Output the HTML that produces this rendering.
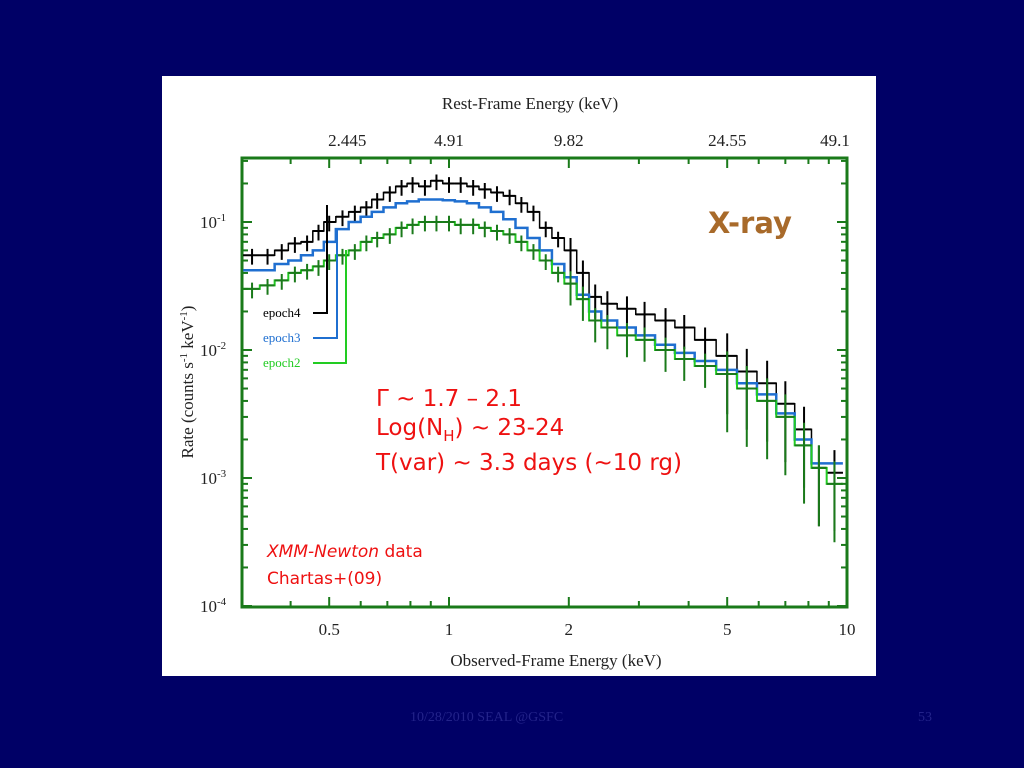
<!DOCTYPE html>
<html><head><meta charset="utf-8"><style>
html,body{margin:0;padding:0;background:#000066;width:1024px;height:768px;overflow:hidden}
#panel{position:absolute;left:162px;top:76px;width:714px;height:600px;background:#fff}
svg{position:absolute;left:0;top:0}
.foot{position:absolute;font-family:"Liberation Serif",serif;font-size:14px;color:#23238a}
</style></head><body>
<div id="panel"></div>
<svg id="chart" width="1024" height="768"></svg>
<div class="foot" style="left:410px;top:710px">10/28/2010 SEAL @GSFC</div>
<div class="foot" style="left:918px;top:710px">53</div>
<script>
const energies=[0.32,0.35,0.38,0.41,0.44,0.47,0.5,0.54,0.58,0.62,0.66,0.71,0.76,0.81,0.87,0.93,1.0,1.07,1.15,1.23,1.32,1.42,1.52,1.63,1.75,1.88,2.02,2.17,2.33,2.5,2.8,3.1,3.5,3.9,4.4,5.0,5.6,6.3,7.0,7.8,8.5,9.3];
const epoch3Model=[0.042,0.042,0.047,0.05,0.055,0.06,0.07,0.088,0.1,0.11,0.12,0.13,0.14,0.145,0.15,0.15,0.148,0.145,0.14,0.13,0.12,0.105,0.09,0.075,0.06,0.047,0.037,0.027,0.02,0.017,0.015,0.013,0.011,0.0095,0.0082,0.007,0.0055,0.0045,0.0032,0.002,0.0013,0.0013];
const epoch4Rates=[0.055,0.055,0.06,0.068,0.07,0.085,0.1,0.11,0.12,0.13,0.15,0.17,0.19,0.2,0.19,0.21,0.2,0.2,0.19,0.18,0.17,0.16,0.14,0.12,0.09,0.075,0.06,0.04,0.026,0.023,0.021,0.019,0.017,0.015,0.012,0.009,0.0068,0.0055,0.0038,0.0024,0.0012,0.0011];
const epoch2Rates=[0.03,0.032,0.035,0.04,0.042,0.045,0.05,0.055,0.06,0.07,0.075,0.08,0.09,0.095,0.1,0.1,0.1,0.095,0.095,0.09,0.085,0.08,0.07,0.06,0.05,0.04,0.033,0.025,0.017,0.015,0.013,0.012,0.01,0.0085,0.0075,0.0065,0.005,0.004,0.003,0.0018,0.0012,0.0009];
const bottomTicks=[0.5,1,2,5,10];
const bottomLabels=["0.5","1","2","5","10"];
const topLabels=["2.445","4.91","9.82","24.55","49.1"];
const yTicks=[0.1,0.01,0.001,0.0001];
const yLabels=["-1","-2","-3","-4"];

const X0=242,X1=847,Y0=158,Y1=607;
const xs=e=>449+398*Math.log10(e);
const ys=v=>222-128*(Math.log10(v)+1);
const svg=document.getElementById('chart');
const NS='http://www.w3.org/2000/svg';
function mk(tag,at){const el=document.createElementNS(NS,tag);for(const k in at)el.setAttribute(k,at[k]);svg.appendChild(el);return el;}
function txt(x,y,s,st){const t=mk('text',{x:x,y:y,style:st});t.textContent=s;return t;}

let fr=mk('rect',{x:X0,y:Y0,width:X1-X0,height:Y1-Y0,fill:'none',stroke:'#1a7a1a','stroke-width':3});


const minors=[0.4,0.5,0.6,0.7,0.8,0.9,1,2,3,4,5,6,7,8,9];
minors.forEach(m=>{const x=xs(m);const big=bottomTicks.includes(m);const L=big?10:6;
 mk('line',{x1:x,x2:x,y1:Y1,y2:Y1-L,stroke:'#1a7a1a','stroke-width':2});
 mk('line',{x1:x,x2:x,y1:Y0,y2:Y0+L,stroke:'#1a7a1a','stroke-width':2});});
const tf='font-family:"Liberation Serif",serif;font-size:17px;fill:#222';
bottomTicks.forEach((t,i)=>{const l=txt(xs(t),635,bottomLabels[i],tf+';text-anchor:middle');
 
 
 const u=txt(xs(t)-(i==4?12:0)+(i==0?18:0),146,topLabels[i],tf+';text-anchor:middle');
 
 });
for(let d=-4;d<-0.5;d++){for(let k=1;k<10;k++){const v=k*Math.pow(10,d);const y=ys(v);if(y<Y0)continue;const L=k==1?10:6;
 mk('line',{x1:X0,x2:X0+L,y1:y,y2:y,stroke:'#1a7a1a','stroke-width':2});
 mk('line',{x1:X1,x2:X1-L,y1:y,y2:y,stroke:'#1a7a1a','stroke-width':2});}}
yTicks.forEach((v,i)=>{const t=mk('text',{x:200,y:ys(v)+6,style:tf});t.innerHTML='10<tspan dy="-7" font-size="11">'+yLabels[i]+'</tspan>';
 
 });
let xt=txt(556,666,'Observed-Frame Energy (keV)',tf+';text-anchor:middle');


let tt=txt(530,109,'Rest-Frame Energy (keV)',tf+';text-anchor:middle');


let yt=mk('text',{x:0,y:0,transform:'translate(193,382) rotate(-90)',style:tf+';text-anchor:middle'});
yt.innerHTML='Rate (counts s<tspan dy="-6" font-size="11">-1</tspan><tspan dy="6"> keV</tspan><tspan dy="-6" font-size="11">-1</tspan><tspan dy="6">)</tspan>';



function edges(i){const lo=i==0?energies[0]*0.95:Math.sqrt(energies[i]*energies[i-1]);const hi=i==energies.length-1?energies[i]*1.05:Math.sqrt(energies[i]*energies[i+1]);return [lo,hi];}
function step(vals,color,name,w){let d='';vals.forEach((v,i)=>{const[a,b]=edges(i);d+=(i?'L':'M')+xs(a)+','+ys(v)+'L'+xs(b)+','+ys(v);});
 const p=mk('path',{d:d,fill:'none',stroke:color,'stroke-width':w});
 
 }
function crosses(vals,color,name){vals.forEach((v,i)=>{const e=energies[i];const f=e<2?0.12:e<5?0.25:0.5;const[a,b]=edges(i);
 const g=mk('path',{d:'M'+xs(a)+','+ys(v)+'L'+xs(b)+','+ys(v)+'M'+xs(e)+','+ys(v*(1+f))+'L'+xs(e)+','+Math.min(Y1,ys(Math.max(v*(1-f*1.3),1e-5))),stroke:color,'stroke-width':2,fill:'none'});
 
 });}
step(epoch4Rates,'#000','epoch4-model',1.5);
crosses(epoch4Rates,'#000','epoch4-point');
step(epoch3Model,'#1f6fd0','epoch3-model',2.5);
step(epoch2Rates,'#22cc22','epoch2-model',2);
crosses(epoch2Rates,'#1a7a1a','epoch2-point');

const lf='font-family:"Liberation Serif",serif;font-size:13px;';
[['epoch4',317,'#000',327,205],['epoch3',342,'#1f6fd0',337,228],['epoch2',367,'#22cc22',346,250]].forEach(l=>{
 const t=txt(263,l[1],l[0],lf+'fill:'+l[2]);
 
 
 mk('path',{d:'M313,'+(l[1]-4)+'H'+l[3]+'V'+l[4],fill:'none',stroke:l[2],'stroke-width':2});});

const af='font-family:"DejaVu Sans",sans-serif;fill:#ee1111;';
let a1=txt(376,406,'Γ ~ 1.7 – 2.1',af+'font-size:23px');
let a2=mk('text',{x:376,y:435,style:af+'font-size:23px'});a2.innerHTML='Log(N<tspan dy="6" font-size="15">H</tspan><tspan dy="-6">) ~ 23-24</tspan>';
let a3=txt(376,470,'T(var) ~ 3.3 days (~10 rg)',af+'font-size:23px');
let a4=mk('text',{x:267,y:557,style:af+'font-size:17px'});a4.innerHTML='<tspan font-style="italic">XMM-Newton</tspan> data';
let a5=txt(267,584,'Chartas+(09)',af+'font-size:17px');
let xr=txt(708,233,'X-ray','font-family:"DejaVu Sans",sans-serif;font-weight:bold;font-size:29px;fill:#a86a2a');


</script>
</body></html>
